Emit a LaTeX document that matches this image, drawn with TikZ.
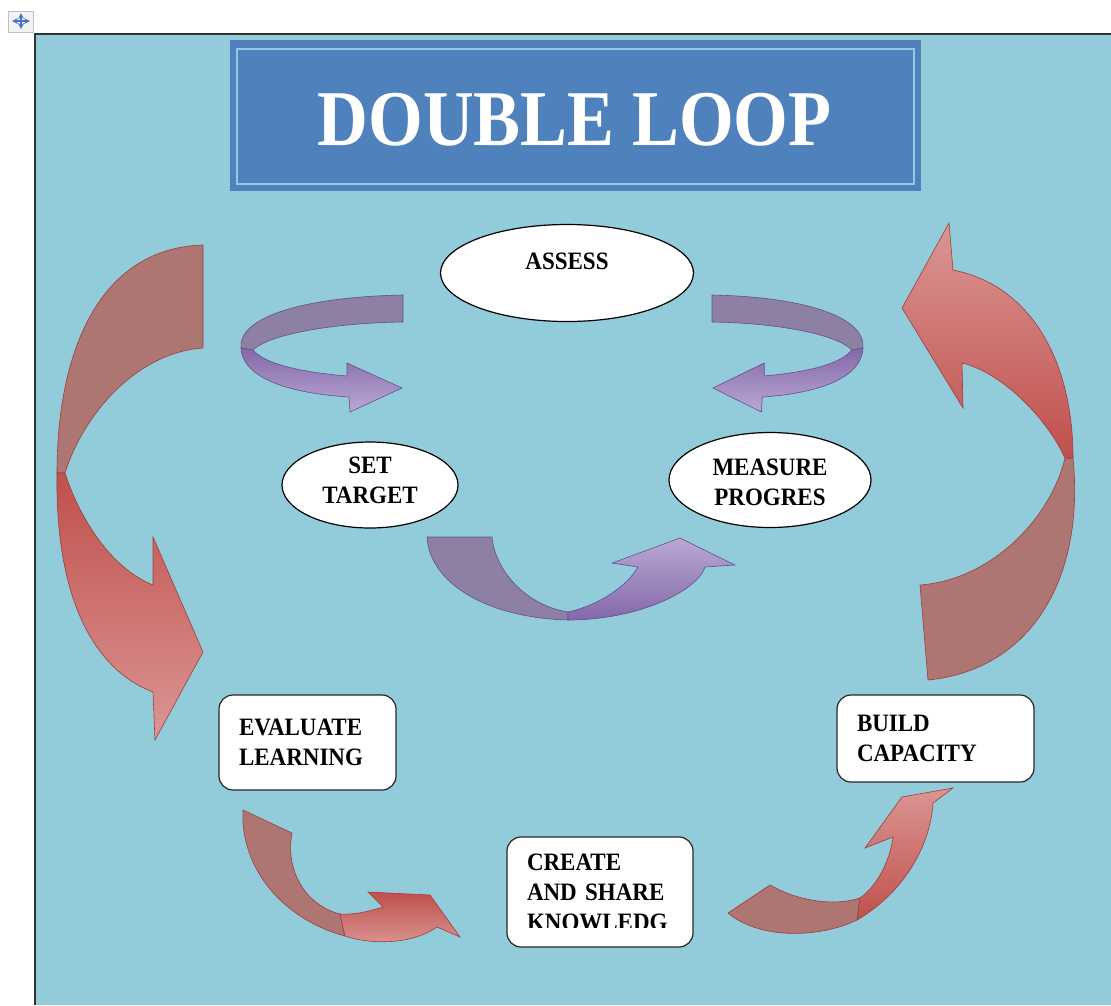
\documentclass[tikz,border=0pt]{standalone}
\usepackage{fontspec}
\setmainfont{Liberation Serif}
\newfontfamily\boxfont[FakeStretch=0.92]{Liberation Serif}
\newfontfamily\titlefont[FakeStretch=0.89]{Liberation Serif}
\usetikzlibrary{shapes.geometric}

\definecolor{panel}{RGB}{146,204,219}
\definecolor{titleblue}{RGB}{79,129,189}
\definecolor{titleline}{RGB}{150,200,224}
\definecolor{redarrow}{RGB}{192,80,77}
\definecolor{pinkarrow}{RGB}{218,150,148}
\definecolor{roseback}{RGB}{174,118,115}
\definecolor{rededge}{RGB}{160,60,58}
\definecolor{purplearrow}{RGB}{132,104,170}
\definecolor{lilac}{RGB}{186,168,212}
\definecolor{purpleback}{RGB}{142,128,163}
\definecolor{purpleedge}{RGB}{100,78,140}
\definecolor{iconblue}{RGB}{68,114,196}

\tikzset{
	oval/.style={ellipse, draw=black, line width=1.2pt, fill=white, inner sep=0pt},
	card/.style={rectangle, rounded corners=14pt, draw=black!85, line width=1.2pt, fill=white,
		align=left, inner xsep=20pt, font=\boxfont\bfseries\fontsize{25}{30}\selectfont},
	lbl/.style={align=center, inner sep=0pt, font=\boxfont\bfseries\fontsize{25}{30}\selectfont},
	redback/.style={fill=roseback, draw=rededge, line width=0.6pt},
	redfront/.style={draw=rededge, line width=0.6pt},
	purpback/.style={fill=purpleback, draw=purpleedge, line width=0.6pt},
	purpfront/.style={draw=purpleedge, line width=0.6pt, top color=purplearrow, bottom color=lilac}
}

%twisted purple arrow, drawn for the left side and mirrored for the right
\def\purplecurl{
	\filldraw[purpback] (403,295) -- (403,322) .. controls (330,323) and (268,335) .. (253,350)
		-- (241,348) .. controls (238,318) and (300,297) .. (403,295) -- cycle;	%back band
	\shadedraw[purpfront] (241,348) .. controls (243,382) and (300,394) .. (349,397) -- (350,412)
		-- (402,388) -- (347,363) -- (347,376) .. controls (300,372) and (265,364) .. (253,350) -- cycle;	%front band + head
}

\begin{document}
\begin{tikzpicture}[x=1pt,y=-1pt]
	\useasboundingbox (0,0) rectangle (1111,1005);

	%page background and panel
	\fill[white] (0,0) rectangle (1111,1005);
	\fill[panel] (35,34) rectangle (1111,1005);
	\draw[line width=2pt, black!80] (35,1005) -- (35,34) -- (1111,34);

	%move handle in the corner
	\filldraw[fill=black!5, draw=black!25, line width=0.8pt] (8,11) rectangle (33,32);
	\draw[iconblue, line width=1.6pt, <->, >=stealth] (12,21) -- (30,21);
	\draw[iconblue, line width=1.6pt, <->, >=stealth] (21,13) -- (21,29);

	%title banner
	\node[rectangle, fill=titleblue, minimum width=691pt, minimum height=151pt, inner sep=0pt] (banner) at (575.5,115.5) {};
	\draw[titleline, line width=2.5pt] (237,49) rectangle (914,184);
	\node[anchor=base, text=white, inner sep=0pt, font=\titlefont\bfseries\fontsize{79}{80}\selectfont] (title) at (574.5,145) {DOUBLE LOOP};

	%inner loop
	\node[oval, minimum width=253pt, minimum height=97pt] (assess) at (567,273) {};
	\node[lbl] (assesstxt) at (567,261) {ASSESS};
	\node[oval, minimum width=176pt, minimum height=86pt] (target) at (370,485) {};
	\node[lbl] (targettxt) at (370,480.5) {SET\\TARGET};
	\node[oval, minimum width=202pt, minimum height=95pt] (measure) at (770,480) {};
	\node[lbl] (measuretxt) at (770,482.5) {MEASURE\\PROGRES};

	\purplecurl	%left curl
	\begin{scope}[xshift=1087.6pt, xscale=-0.932]
		\purplecurl	%right curl
	\end{scope}

	%bottom purple arrow
	\filldraw[purpback] (427,537) -- (492,537) .. controls (495,570) and (525,605) .. (568,612)
		-- (568,620) .. controls (490,618) and (430,585) .. (427,537) -- cycle;
	\shadedraw[draw=purpleedge, line width=0.6pt, top color=lilac, bottom color=purplearrow]
		(568,612) .. controls (600,605) and (628,585) .. (638,567) -- (612,563) -- (680,538) -- (735,565)
		-- (705,567) .. controls (698,590) and (640,620) .. (568,620) -- cycle;

	%outer loop
	\node[card, text width=137pt, minimum height=95pt] (evaluate) at (307.5,742.5) {EVALUATE\\LEARNING};
	\node[card, text width=146pt, minimum height=110pt] (create) at (600,892) {CREATE\\AND SHARE\\KNOWLEDG};
	\fill[white] (516,928) rectangle (684,945);	%cut last line
	\node[card, text width=157pt, minimum height=87pt] (build) at (935.5,738.5) {BUILD\\CAPACITY};

	%big left arrow
	\filldraw[redback] (203,245) -- (203,348) .. controls (140,352) and (85,410) .. (65,473)
		-- (57,473) .. controls (57,350) and (100,248) .. (203,245) -- cycle;
	\shadedraw[redfront, top color=redarrow, bottom color=pinkarrow]
		(57,473) .. controls (55,600) and (95,670) .. (153,692) -- (155,740) -- (203,652) -- (153,537)
		-- (153,585) .. controls (115,570) and (82,525) .. (65,473) -- cycle;

	%big right arrow
	\filldraw[redback] (1073,458) .. controls (1085,580) and (1030,670) .. (928,680)
		-- (920,585) .. controls (990,580) and (1050,520) .. (1065,458) -- cycle;
	\shadedraw[redfront, top color=pinkarrow, bottom color=redarrow]
		(902,308) -- (949,223) -- (953,270) .. controls (1030,285) and (1073,360) .. (1073,458)
		-- (1065,458) .. controls (1045,415) and (1000,372) .. (962,363) -- (963,408) -- cycle;

	%small arrow under evaluate
	\filldraw[redback] (243,810) -- (292,833) .. controls (285,870) and (305,905) .. (340,914)
		-- (345,936) .. controls (285,920) and (240,870) .. (243,810) -- cycle;
	\shadedraw[redfront, top color=redarrow, bottom color=pinkarrow]
		(340,914) .. controls (355,915) and (370,911) .. (383,907) -- (368,892) -- (430,895) -- (460,937)
		-- (437,927) .. controls (415,943) and (375,946) .. (345,936) -- cycle;

	%small arrow under build
	\filldraw[redback] (728,913) -- (770,885) .. controls (800,902) and (835,906) .. (860,898)
		-- (857,920) .. controls (820,938) and (760,940) .. (728,913) -- cycle;
	\shadedraw[redfront, top color=pinkarrow, bottom color=redarrow]
		(860,898) .. controls (878,885) and (890,860) .. (893,837) -- (865,848) -- (902,797) -- (953,788)
		-- (933,803) .. controls (930,850) and (900,895) .. (857,920) -- cycle;
\end{tikzpicture}
\end{document}
